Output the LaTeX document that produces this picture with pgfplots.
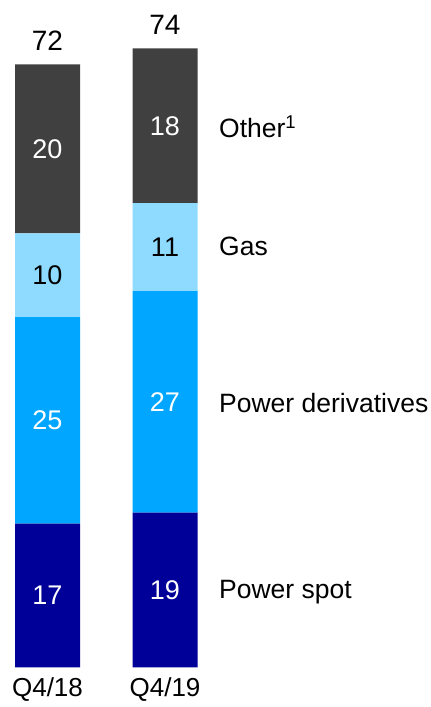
\documentclass[border=0pt]{standalone}
\usepackage{pgfplots}
\pgfplotsset{compat=1.18}
\usepackage{fontspec}
\setmainfont{Liberation Sans}

\definecolor{cOther}{HTML}{404040}
\definecolor{cGas}{HTML}{8FDBFF}
\definecolor{cDeriv}{HTML}{00A6FF}
\definecolor{cSpot}{HTML}{000099}

\begin{document}
\begin{tikzpicture}
\path[use as bounding box] (0,0) rectangle (431pt,707pt);
\begin{axis}[
  at={(0,0)}, anchor=south west,
  scale only axis,
  width=431pt, height=707pt,
  xmin=-0.40426, xmax=3.26383,
  ymin=-4.722, ymax=79.797,
  hide axis,
  clip=false,
  ybar stacked,
  bar width=65pt,
  every axis plot/.append style={draw=none},
]
% Power spot, Power derivatives, Gas, Other (heights as drawn)
\addplot[fill=cSpot]   coordinates {(0,17.2) (1,18.5)};
\addplot[fill=cDeriv]  coordinates {(0,24.7) (1,26.5)};
\addplot[fill=cGas]    coordinates {(0,10.0) (1,10.5)};
\addplot[fill=cOther]  coordinates {(0,20.2) (1,18.5)};

% anchor points for the labels
\coordinate (a1) at (axis cs:0,8.6);
\coordinate (a2) at (axis cs:0,29.55);
\coordinate (a3) at (axis cs:0,46.9);
\coordinate (a4) at (axis cs:0,62.0);
\coordinate (b1) at (axis cs:1,9.25);
\coordinate (b2) at (axis cs:1,31.75);
\coordinate (b3) at (axis cs:1,50.25);
\coordinate (b4) at (axis cs:1,64.75);
\coordinate (t1) at (axis cs:0,72.1);
\coordinate (t2) at (axis cs:1,74.0);
\coordinate (q1) at (axis cs:0,-2.68);
\coordinate (q2) at (axis cs:1,-2.68);
\coordinate (l1) at (axis cs:1.4596,9.0);
\coordinate (l2) at (axis cs:1.4596,31.6);
\coordinate (l3) at (axis cs:1.4596,50.3);
\coordinate (l4) at (axis cs:1.4596,64.6);
\end{axis}

\tikzset{
  val/.style={font=\fontsize{27}{30}\selectfont, anchor=center},
  lab/.style={font=\fontsize{26.5}{28}\selectfont, anchor=west, inner sep=0pt},
}
% values inside segments
\node[val, white] at (a1) {17};
\node[val, white] at (a2) {25};
\node[val, black] at (a3) {10};
\node[val, white] at (a4) {20};
\node[val, white] at (b1) {19};
\node[val, white] at (b2) {27};
\node[val, black] at (b3) {11};
\node[val, white] at (b4) {18};

% totals
\node[font=\fontsize{28}{30}\selectfont, anchor=base] at ([yshift=14pt]t1) {72};
\node[font=\fontsize{28}{30}\selectfont, anchor=base] at ([yshift=14pt]t2) {74};

% categories
\node[font=\fontsize{26}{28}\selectfont, anchor=center] at (q1) {Q4/18};
\node[font=\fontsize{26}{28}\selectfont, anchor=center] at (q2) {Q4/19};

% series labels
\node[lab] at (l4) {Other\textsuperscript{1}};
\node[lab] at (l3) {Gas};
\node[lab] at (l2) {Power derivatives};
\node[lab] at (l1) {Power spot};
\end{tikzpicture}
\end{document}
